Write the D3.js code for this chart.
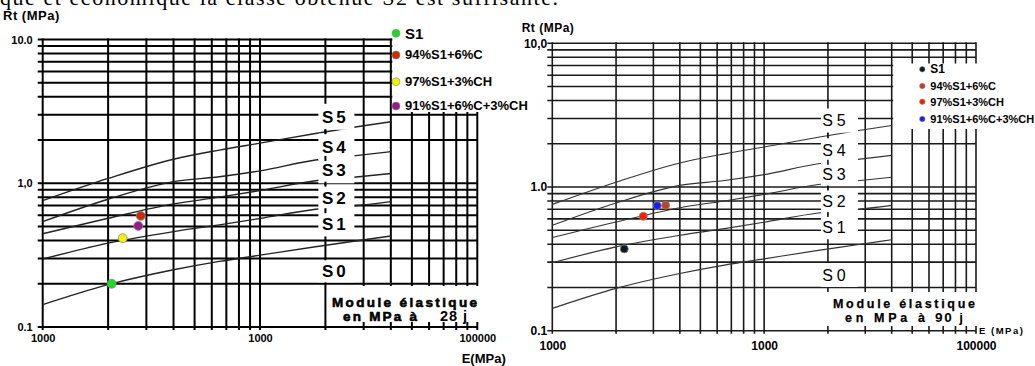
<!DOCTYPE html>
<html>
<head>
<meta charset="utf-8">
<script src="https://cdn.jsdelivr.net/npm/d3@7"></script>
<style>
  body { margin: 0; background: #fff; }
  svg { display: block; font-family: "Liberation Sans", Arial, sans-serif; }
</style>
</head>
<body>
<svg id="chart" width="1035" height="366"></svg>
<script>
// grid of the log-log abacus
const gridE = [1000, 2000, 3000, 4000, 5000, 6000, 7000, 8000, 9000,
  10000, 20000, 30000, 40000, 50000, 60000, 70000, 80000, 90000, 100000];
const gridRt = [0.1, 0.2, 0.3, 0.4, 0.5, 0.6, 0.7, 0.8, 0.9,
  1, 2, 3, 4, 5, 6, 7, 8, 9, 10];

// class boundaries (E in MPa, Rt in MPa)
const curveE   = [1000, 2000, 4000, 6500, 10000, 18000, 27000, 40000];
const curveS01 = [0.143, 0.197, 0.25, 0.286, 0.316, 0.362, 0.395, 0.43];
const curveS12 = [0.297, 0.383, 0.461, 0.513, 0.569, 0.66, 0.695, 0.745];
const curveS23 = [0.445, 0.571, 0.718, 0.80, 0.889, 1.04, 1.10, 1.17];
const curveS34 = [0.541, 0.774, 1.026, 1.11, 1.22, 1.45, 1.55, 1.66];
const curveS45 = [0.757, 1.08, 1.47, 1.70, 1.90, 2.22, 2.45, 2.68];

const classNames = ["S5", "S4", "S3", "S2", "S1", "S0"];
const classRt = [2.9, 1.8, 1.23, 0.79, 0.525, 0.244];

// measured mixes
const seriesNames = ["S1", "94%S1+6%C", "97%S1+3%CH", "91%S1+6%C+3%CH"];
const e28  = [2077, 2825, 2334, 2754];
const rt28 = [0.20, 0.593, 0.415, 0.505];
const e90  = [2186, 3427, 2687, 3129];
const rt90 = [0.371, 0.745, 0.625, 0.741];

const xTickValues = [1000, 10000, 100000];
const xTickLabels = ["1000", "1000", "100000"];
const yTickValues = [0.1, 1, 10];
const yTickLabels28 = ["0.1", "1,0", "10.0"];
const yTickLabels90 = ["0.1", "1.0", "10,0"];

const svg = d3.select("#chart");

// text line of the document above the figures (cut by the top edge)
svg.append("text")
  .attr("x", 0).attr("y", 5)
  .attr("textLength", 558)
  .style("font-family", "'Liberation Serif', 'Times New Roman', serif")
  .style("font-size", "22px")
  .text("que et  économique la classe obtenue S2 est suffisante.");

function drawPanel(cfg) {
  const g = svg.append("g");
  const x = d3.scaleLog().domain([1000, 100000]).range([cfg.x0, cfg.x1]);
  const y = d3.scaleLog().domain([0.1, 10]).range([cfg.y0, cfg.y1]);

  // grid
  g.selectAll("line.h").data(gridRt).join("line")
    .attr("x1", cfg.x0 - 5).attr("x2", cfg.x1)
    .attr("y1", d => y(d)).attr("y2", d => y(d))
    .attr("stroke", cfg.gridColor).attr("stroke-width", cfg.gridW);
  g.selectAll("line.v").data(gridE).join("line")
    .attr("x1", d => x(d)).attr("x2", d => x(d))
    .attr("y1", cfg.y1 - 1).attr("y2", cfg.y0 + 3)
    .attr("stroke", cfg.gridColor).attr("stroke-width", cfg.gridW);

  // boundary curves
  const line = d3.line().x(d => x(d[0])).y(d => y(d[1])).curve(d3.curveMonotoneX);
  [curveS01, curveS12, curveS23, curveS34, curveS45].forEach(c => {
    g.append("path")
      .attr("d", line(d3.zip(curveE, c)))
      .attr("fill", "none")
      .attr("stroke", cfg.curveColor)
      .attr("stroke-width", cfg.curveW);
  });

  // white areas: legend, bottom caption, class labels
  g.append("rect")
    .attr("x", x(40000) + 1.5).attr("y", cfg.legendTop)
    .attr("width", cfg.legendW).attr("height", cfg.legendBottom - cfg.legendTop)
    .attr("fill", "#fff");
  g.append("rect")
    .attr("x", cfg.capX).attr("y", cfg.capTop)
    .attr("width", x(100000) + 2 - cfg.capX).attr("height", cfg.capBottom - cfg.capTop)
    .attr("fill", "#fff");

  const lx = x(20000);
  classNames.forEach((name, i) => {
    const h = name === "S0" ? cfg.s0BoxH : cfg.boxH;
    g.append("rect")
      .attr("x", lx - 7).attr("y", y(classRt[i]) - h / 2)
      .attr("width", cfg.boxW).attr("height", h)
      .attr("fill", "#fff");
  });
  // bits of the 20000 line seen between the labels
  for (let i = 0; i < 4; i++) {
    const ym = (y(classRt[i]) + y(classRt[i + 1])) / 2;
    g.append("line")
      .attr("x1", lx).attr("x2", lx)
      .attr("y1", ym - 2.5).attr("y2", ym + 2.5)
      .attr("stroke", cfg.gridColor).attr("stroke-width", cfg.gridW);
  }
  classNames.forEach((name, i) => {
    g.append("text")
      .attr("x", lx + cfg.labelDx).attr("y", y(classRt[i]))
      .attr("dy", "0.36em")
      .attr("text-anchor", "middle")
      .style("font-size", cfg.labelSize + "px")
      .style("font-weight", cfg.labelWeight)
      .style("letter-spacing", cfg.labelSpacing + "px")
      .text(name);
  });

  // axes
  const xAxis = g.append("g")
    .attr("transform", `translate(0,${cfg.y0})`)
    .call(d3.axisBottom(x).tickValues(xTickValues)
      .tickFormat((d, i) => xTickLabels[i]).tickSize(0).tickPadding(cfg.xPad));
  const yAxis = g.append("g")
    .attr("transform", `translate(${cfg.x0},0)`)
    .call(d3.axisLeft(y).tickValues(yTickValues)
      .tickFormat((d, i) => cfg.yLabels[i]).tickSize(0).tickPadding(cfg.yPad));
  [xAxis, yAxis].forEach(a => {
    a.select(".domain").remove();
    a.selectAll("text")
      .attr("fill", "#000")
      .style("font-family", "'Liberation Sans', Arial, sans-serif")
      .style("font-weight", "bold")
      .style("font-size", cfg.tickSize + "px");
  });

  // points
  g.selectAll("circle.pt").data(d3.range(seriesNames.length)).join("circle")
    .attr("cx", i => x(cfg.e[i])).attr("cy", i => y(cfg.rt[i]))
    .attr("r", cfg.dotR)
    .attr("fill", i => cfg.colors[i])
    .attr("stroke", cfg.dotStroke).attr("stroke-width", 0.8);

  // legend
  seriesNames.forEach((name, i) => {
    g.append("circle")
      .attr("cx", cfg.legX).attr("cy", cfg.legY[i]).attr("r", cfg.legR)
      .attr("fill", cfg.colors[i])
      .attr("stroke", cfg.dotStroke).attr("stroke-width", 0.6);
    const first = i === 0;
    g.append("text")
      .attr("x", cfg.legX + cfg.legDx).attr("y", cfg.legY[i] + (first ? cfg.legFirstDy : 4))
      .style("font-family", first ? "'Liberation Sans', Arial, sans-serif" : cfg.legFont)
      .style("font-weight", "bold")
      .style("font-size", (first ? cfg.legFirstSize : cfg.legSize) + "px")
      .text(name);
  });

  // titles
  g.append("text")
    .attr("x", cfg.rtX).attr("y", cfg.rtY)
    .style("font-weight", "bold").style("font-size", cfg.rtSize + "px")
    .style("letter-spacing", "0.5px")
    .text("Rt (MPa)");
  g.append("text")
    .attr("x", cfg.eX).attr("y", cfg.eY)
    .style("font-weight", "bold").style("font-size", cfg.eSize + "px")
    .style("letter-spacing", cfg.eSpacing + "px")
    .text(cfg.eTitle);

  // caption
  g.append("text")
    .attr("x", cfg.cap1X).attr("y", cfg.cap1Y)
    .attr("textLength", cfg.cap1W)
    .style("font-weight", "bold").style("font-size", cfg.capSize + "px")
    .attr("stroke", "#000").attr("stroke-width", cfg.capStroke)
    .text("Module élastique");
  g.append("text")
    .attr("x", cfg.cap2X).attr("y", cfg.cap2Y)
    .attr("textLength", cfg.cap2W)
    .style("font-weight", "bold").style("font-size", cfg.capSize + "px")
    .attr("stroke", "#000").attr("stroke-width", cfg.capStroke)
    .text("en MPa à");
  g.append("text")
    .attr("x", cfg.cap3X).attr("y", cfg.cap2Y)
    .attr("textLength", cfg.cap3W)
    .style("font-weight", "bold").style("font-size", (cfg.capSize + 1) + "px")
    .style("font-family", cfg.legFont)
    .text(cfg.age);
}

// 28 days
drawPanel({
  x0: 42.7, x1: 477.3, y0: 327, y1: 39.5,
  gridColor: "#000", gridW: 2, curveColor: "#222", curveW: 1.4,
  legendTop: 20, legendBottom: 112, legendW: 130,
  capX: 330, capTop: 286, capBottom: 322,
  boxW: 36, boxH: 26, s0BoxH: 22, labelDx: 10,
  labelSize: 17, labelWeight: "bold", labelSpacing: 3,
  xPad: 7, yPad: 10, yLabels: yTickLabels28, tickSize: 11,
  e: e28, rt: rt28, colors: ["#22d822", "#d02a00", "#f4f000", "#9a1a88"],
  dotR: 4.5, dotStroke: "#7d8c96",
  legX: 396, legY: [33.3, 55, 81.7, 106], legR: 4, legDx: 9,
  legFont: "'Liberation Sans Narrow', 'Arial Narrow', sans-serif",
  legSize: 13, legFirstSize: 15, legFirstDy: 5.5,
  rtX: 3, rtY: 20, rtSize: 13,
  eX: 461.7, eY: 363, eSize: 13, eSpacing: 0, eTitle: "E(MPa)",
  capSize: 13.5, capStroke: 0.6,
  cap1X: 332, cap1Y: 306.5, cap1W: 145,
  cap2X: 343, cap2Y: 321, cap2W: 74,
  cap3X: 440, cap3W: 27, age: "28 j"
});

// 90 days
drawPanel({
  x0: 552.3, x1: 976, y0: 330.7, y1: 43.3,
  gridColor: "#1a1a1a", gridW: 1.6, curveColor: "#333", curveW: 1.1,
  legendTop: 63.5, legendBottom: 129, legendW: 125,
  capX: 827, capTop: 292, capBottom: 326,
  boxW: 37, boxH: 24, s0BoxH: 24, labelDx: 8,
  labelSize: 16, labelWeight: "normal", labelSpacing: 4,
  xPad: 11, yPad: 5, yLabels: yTickLabels90, tickSize: 12,
  e: e90, rt: rt90, colors: ["#0b1630", "#c23b35", "#ff1a00", "#1a1aff"],
  dotR: 4, dotStroke: "#8a8a5a",
  legX: 922.3, legY: [69.3, 86, 101.7, 119], legR: 2.7, legDx: 8,
  legFont: "'Liberation Sans', Arial, sans-serif",
  legSize: 11, legFirstSize: 12, legFirstDy: 3.8,
  rtX: 521.7, rtY: 32, rtSize: 12,
  eX: 979, eY: 333.5, eSize: 9.5, eSpacing: 1.5, eTitle: "E (MPa)",
  capSize: 12.5, capStroke: 0.25,
  cap1X: 833, cap1Y: 308, cap1W: 142,
  cap2X: 845, cap2Y: 321.5, cap2W: 80,
  cap3X: 935, cap3W: 28, age: "90 j"
});
</script>
</body>
</html>
